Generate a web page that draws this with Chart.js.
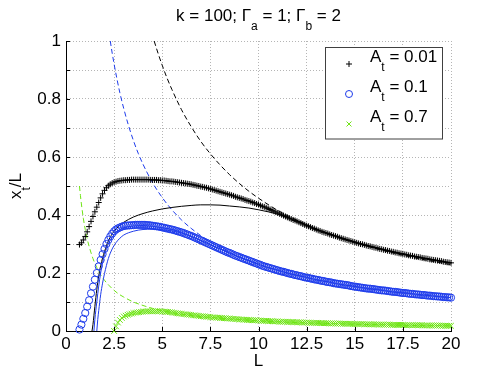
<!DOCTYPE html>
<html><head><meta charset="utf-8">
<script src="https://cdn.jsdelivr.net/npm/chart.js@4/dist/chart.umd.min.js"></script>
<style>html,body{margin:0;padding:0;background:#fff;}canvas{display:block;}</style>
</head><body>
<canvas id="c" width="498" height="375"></canvas>
<script>
// ---- tick definitions ----
const xTicks = [0, 2.5, 5, 7.5, 10, 12.5, 15, 17.5, 20];
const xTickLabels = ['0','2.5','5','7.5','10','12.5','15','17.5','20'];
const yTicks = [0, 0.1, 0.2, 0.3, 0.4, 0.5, 0.6, 0.7, 0.8, 0.9, 1];
const yTickLabels = ['0','','0.2','','0.4','','0.6','','0.8','','1'];
const legendValues = ['0.01', '0.1', '0.7'];

// ---- marker series (x_t/L vs L) ----
const L_mark = [0.7,0.8,0.9,
1.0,1.1,1.2,1.3,1.4,1.5,1.6,1.7,1.8,1.9,
2.0,2.1,2.2,2.3,2.4,2.5,2.6,2.7,2.8,2.9,
3.0,3.1,3.2,3.3,3.4,3.5,3.6,3.7,3.8,3.9,
4.0,4.1,4.2,4.3,4.4,4.5,4.6,4.7,4.8,4.9,
5.0,5.1,5.2,5.3,5.4,5.5,5.6,5.7,5.8,5.9,
6.0,6.1,6.2,6.3,6.4,6.5,6.6,6.7,6.8,6.9,
7.0,7.1,7.2,7.3,7.4,7.5,7.6,7.7,7.8,7.9,
8.0,8.1,8.2,8.3,8.4,8.5,8.6,8.7,8.8,8.9,
9.0,9.1,9.2,9.3,9.4,9.5,9.6,9.7,9.8,9.9,
10.0,10.1,10.2,10.3,10.4,10.5,10.6,10.7,10.8,10.9,
11.0,11.1,11.2,11.3,11.4,11.5,11.6,11.7,11.8,11.9,
12.0,12.1,12.2,12.3,12.4,12.5,12.6,12.7,12.8,12.9,
13.0,13.1,13.2,13.3,13.4,13.5,13.6,13.7,13.8,13.9,
14.0,14.1,14.2,14.3,14.4,14.5,14.6,14.7,14.8,14.9,
15.0,15.1,15.2,15.3,15.4,15.5,15.6,15.7,15.8,15.9,
16.0,16.1,16.2,16.3,16.4,16.5,16.6,16.7,16.8,16.9,
17.0,17.1,17.2,17.3,17.4,17.5,17.6,17.7,17.8,17.9,
18.0,18.1,18.2,18.3,18.4,18.5,18.6,18.7,18.8,18.9,
19.0,19.1,19.2,19.3,19.4,19.5,19.6,19.7,19.8,19.9,
20.0];

const mark_A001 = [0.298,0.304,0.314,
0.326,0.342,0.360,0.378,0.395,0.411,0.427,0.443,0.459,0.473,
0.485,0.494,0.501,0.506,0.510,0.513,0.515,0.517,0.518,0.519,
0.520,0.520,0.521,0.521,0.522,0.522,0.522,0.522,0.522,0.522,
0.522,0.522,0.522,0.522,0.521,0.521,0.521,0.521,0.520,0.520,
0.519,0.519,0.518,0.517,0.516,0.516,0.515,0.514,0.513,0.512,
0.511,0.510,0.509,0.508,0.507,0.506,0.504,0.503,0.501,0.500,
0.498,0.497,0.495,0.494,0.492,0.490,0.488,0.486,0.484,0.482,
0.480,0.478,0.476,0.474,0.472,0.470,0.468,0.466,0.463,0.461,
0.459,0.457,0.455,0.452,0.450,0.448,0.446,0.443,0.441,0.438,
0.436,0.433,0.430,0.428,0.425,0.422,0.419,0.416,0.413,0.410,
0.407,0.404,0.401,0.398,0.395,0.392,0.389,0.386,0.383,0.381,
0.378,0.375,0.372,0.369,0.366,0.363,0.361,0.358,0.355,0.353,
0.350,0.347,0.345,0.342,0.340,0.338,0.336,0.333,0.331,0.329,
0.327,0.325,0.322,0.320,0.318,0.316,0.314,0.312,0.310,0.308,
0.306,0.304,0.302,0.300,0.299,0.297,0.295,0.293,0.292,0.290,
0.288,0.287,0.285,0.283,0.282,0.280,0.279,0.277,0.276,0.274,
0.273,0.271,0.270,0.268,0.267,0.266,0.264,0.263,0.261,0.260,
0.259,0.257,0.256,0.255,0.254,0.252,0.251,0.250,0.249,0.247,
0.246,0.245,0.244,0.243,0.242,0.241,0.239,0.238,0.237,0.236,
0.235];

const mark_A01 = [0.005,0.022,0.042,
0.062,0.084,0.106,0.130,0.153,0.177,0.200,0.223,0.245,0.265,
0.283,0.300,0.314,0.326,0.336,0.344,0.350,0.354,0.357,0.360,
0.362,0.363,0.364,0.364,0.365,0.365,0.366,0.366,0.366,0.366,
0.366,0.366,0.365,0.365,0.364,0.363,0.362,0.361,0.360,0.359,
0.357,0.356,0.354,0.353,0.351,0.350,0.348,0.346,0.344,0.342,
0.340,0.338,0.335,0.333,0.330,0.328,0.325,0.322,0.319,0.316,
0.313,0.310,0.307,0.304,0.301,0.298,0.295,0.292,0.289,0.286,
0.283,0.280,0.277,0.274,0.271,0.269,0.266,0.263,0.260,0.258,
0.255,0.253,0.250,0.248,0.245,0.243,0.240,0.238,0.235,0.233,
0.230,0.228,0.225,0.223,0.221,0.219,0.217,0.215,0.213,0.211,
0.209,0.207,0.205,0.204,0.202,0.200,0.198,0.197,0.195,0.193,
0.192,0.190,0.189,0.187,0.185,0.184,0.183,0.181,0.180,0.178,
0.177,0.176,0.174,0.173,0.172,0.170,0.169,0.168,0.167,0.165,
0.164,0.163,0.162,0.161,0.160,0.159,0.158,0.157,0.155,0.154,
0.153,0.152,0.151,0.150,0.149,0.148,0.147,0.146,0.146,0.145,
0.144,0.143,0.142,0.141,0.140,0.140,0.139,0.138,0.137,0.136,
0.135,0.135,0.134,0.133,0.132,0.131,0.131,0.130,0.129,0.128,
0.128,0.127,0.126,0.126,0.125,0.124,0.124,0.123,0.122,0.122,
0.121,0.120,0.120,0.119,0.119,0.118,0.117,0.117,0.116,0.116,
0.115];

const mark_A07 = [null,null,null,
null,null,null,null,null,null,null,null,null,null,
null,null,null,null,null,0.000,0.016,0.029,0.038,0.045,
0.050,0.053,0.056,0.058,0.060,0.062,0.063,0.064,0.065,0.066,
0.067,0.067,0.068,0.068,0.068,0.068,0.068,0.068,0.068,0.068,
0.067,0.067,0.066,0.066,0.065,0.064,0.063,0.062,0.061,0.060,
0.059,0.058,0.058,0.057,0.056,0.055,0.054,0.054,0.053,0.052,
0.051,0.051,0.050,0.049,0.049,0.048,0.047,0.047,0.046,0.046,
0.045,0.045,0.044,0.044,0.043,0.043,0.042,0.042,0.041,0.041,
0.040,0.040,0.039,0.039,0.038,0.038,0.038,0.037,0.037,0.037,
0.036,0.036,0.035,0.035,0.035,0.034,0.034,0.034,0.033,0.033,
0.033,0.032,0.032,0.032,0.032,0.031,0.031,0.031,0.031,0.030,
0.030,0.030,0.030,0.029,0.029,0.029,0.029,0.028,0.028,0.028,
0.028,0.028,0.027,0.027,0.027,0.027,0.027,0.026,0.026,0.026,
0.026,0.026,0.026,0.025,0.025,0.025,0.025,0.025,0.025,0.024,
0.024,0.024,0.024,0.024,0.024,0.023,0.023,0.023,0.023,0.023,
0.023,0.023,0.022,0.022,0.022,0.022,0.022,0.022,0.022,0.021,
0.021,0.021,0.021,0.021,0.021,0.021,0.021,0.020,0.020,0.020,
0.020,0.020,0.020,0.020,0.020,0.020,0.019,0.019,0.019,0.019,
0.019,0.019,0.019,0.019,0.019,0.018,0.018,0.018,0.018,0.018,
0.018];

// ---- solid curves ----
const L_solidK = [1.35,1.4,1.5,1.6,1.7,1.8,1.9,2.0,2.2,2.4,2.6,2.8,3.0,3.5,4.0,4.5,5,5.5,6,6.5,7,7.5,8,8.5,9,9.5,10,10.5,11,11.5,12,13,14,15,16,17,18,19,20];
const solidK = [0,0.022,0.085,0.143,0.19,0.225,0.252,0.274,0.31,0.335,0.352,0.365,0.375,0.393,0.405,0.414,0.421,0.426,0.430,0.433,0.435,0.435,0.434,0.431,0.428,0.424,0.418,0.411,0.403,0.392,0.379,0.351,0.328,0.307,0.289,0.272,0.258,0.245,0.234];
const L_solidB1 = [1.45,1.5,1.6,1.7,1.8,1.9,2.0,2.2,2.4,2.6,2.8,3.0,3.5,4.0,4.5,5,5.5,6,6.5,7,7.5,8,9,10,11,12,13,14,15,16,17,18,19,20];
const solidB1 = [0,0.04,0.1,0.155,0.2,0.236,0.263,0.3,0.324,0.34,0.35,0.356,0.362,0.363,0.361,0.356,0.35,0.34,0.326,0.312,0.298,0.283,0.255,0.23,0.209,0.192,0.177,0.164,0.153,0.144,0.135,0.128,0.121,0.115];
const L_solidB2 = [1.6,1.65,1.7,1.8,1.9,2.0,2.2,2.4,2.6,2.8,3.0,3.5,4.0,4.5,5,5.5,6,6.5,7,7.5,8,9,10];
const solidB2 = [0,0.04,0.07,0.125,0.165,0.198,0.25,0.283,0.305,0.32,0.331,0.344,0.35,0.351,0.349,0.345,0.338,0.326,0.312,0.298,0.283,0.255,0.23];

// ---- dashed curves ----
const L_dashK = [4.58,4.8,5,5.25,5.5,5.75,6,6.5,7,7.5,8,8.5,9,9.5,10,11,12,13,14,15,16,17,18,19,20];
const dashK = [1.000,0.954,0.916,0.872,0.833,0.797,0.763,0.705,0.654,0.611,0.573,0.539,0.509,0.482,0.458,0.416,0.382,0.352,0.327,0.305,0.286,0.269,0.254,0.241,0.229];
const L_dashB = [2.3,2.4,2.5,2.65,2.8,3,3.25,3.5,3.75,4,4.5,5,5.5,6,6.5,7,7.5,8,9,10,11,12,13,14,15,16,17,18,19,20];
const dashB = [1.000,0.958,0.920,0.868,0.821,0.767,0.708,0.657,0.613,0.575,0.511,0.460,0.418,0.383,0.354,0.329,0.307,0.288,0.256,0.230,0.209,0.192,0.177,0.164,0.153,0.144,0.135,0.128,0.121,0.115];
const L_dashG = [0.7,0.75,0.8,0.9,1.0,1.1,1.2,1.4,1.6,1.8,2.0,2.25,2.5,2.75,3,3.5,4,4.5,5,6,7,8,10,12,14,16,18,20];
const dashG = [0.500,0.467,0.438,0.389,0.350,0.318,0.292,0.250,0.219,0.194,0.175,0.156,0.140,0.127,0.117,0.100,0.088,0.078,0.070,0.058,0.050,0.044,0.035,0.029,0.025,0.022,0.019,0.0175];

const FONT = '"Liberation Sans", Arial, Helvetica, sans-serif';
const BLACK = '#000000', BLUE = 'rgb(30,60,235)', GREEN = 'rgb(110,228,20)';

function pts(xs, ys) { return xs.map((x, i) => ({ x: x, y: ys[i] })); }

function markerDs(data, color, style, r) {
  return { data: pts(L_mark, data), showLine: false, borderColor: color, backgroundColor: 'rgba(0,0,0,0)',
    pointStyle: style, pointRadius: r, pointBorderWidth: 1, pointBorderColor: color, clip: false };
}
function lineDs(xs, ys, color, dashed) {
  return { data: pts(xs, ys), showLine: true, borderColor: color, borderWidth: 1, pointRadius: 0,
    borderDash: dashed ? [5, 3] : [], cubicInterpolationMode: 'monotone', fill: false };
}

function richWidth(ctx, segs, size) {
  let w = 0;
  for (const s of segs) {
    ctx.font = (s.sub ? Math.round(size * 0.72) : size) + 'px ' + FONT;
    w += ctx.measureText(s.t).width;
  }
  return w;
}
function drawRich(ctx, segs, x, y, size, align) {
  const w = richWidth(ctx, segs, size);
  let cx = align === 'center' ? x - w / 2 : x;
  ctx.textBaseline = 'alphabetic';
  ctx.textAlign = 'left';
  for (const s of segs) {
    ctx.font = (s.sub ? Math.round(size * 0.72) : size) + 'px ' + FONT;
    ctx.fillText(s.t, cx, s.sub ? y + size * 0.5 : y);
    cx += ctx.measureText(s.t).width;
  }
}

const decor = {
  id: 'decor',
  afterDraw(chart) {
    const ctx = chart.ctx, ca = chart.chartArea;
    const xs = chart.scales.x, ys = chart.scales.y;
    ctx.save();
    ctx.strokeStyle = '#000'; ctx.lineWidth = 1;
    ctx.beginPath();
    for (const v of yTicks) { const py = Math.round(ys.getPixelForValue(v)) + 0.5; ctx.moveTo(ca.left, py); ctx.lineTo(ca.left + 4, py); }
    for (const v of xTicks) { const px = Math.round(xs.getPixelForValue(v)) + 0.5; ctx.moveTo(px, ca.bottom); ctx.lineTo(px, ca.bottom - 4); }
    ctx.stroke();
    ctx.fillStyle = '#000';
    drawRich(ctx, [{t:'k = 100; \u0393'},{t:'a',sub:1},{t:' = 1; \u0393'},{t:'b',sub:1},{t:' = 2'}], (ca.left + ca.right) / 2, 21, 17, 'center');
    drawRich(ctx, [{t:'L'}], (ca.left + ca.right) / 2, 366, 17, 'center');
    ctx.save();
    ctx.translate(21, (ca.top + ca.bottom) / 2);
    ctx.rotate(-Math.PI / 2);
    drawRich(ctx, [{t:'x'},{t:'t',sub:1},{t:'/L'}], 0, 0, 17, 'center');
    ctx.restore();
    const bx = 325.5, by = 47.5, bw = 117, bh = 91.5;
    ctx.fillStyle = '#fff'; ctx.fillRect(bx, by, bw, bh);
    ctx.strokeStyle = '#404040'; ctx.lineWidth = 1; ctx.strokeRect(bx, by, bw, bh);
    const items = [
      { style: 'cross', color: BLACK, r: 3 },
      { style: 'circle', color: BLUE, r: 3.5 },
      { style: 'crossRot', color: GREEN, r: 3.5 }
    ];
    items.forEach((it, i) => {
      const my = 64 + i * 30;
      ctx.strokeStyle = it.color; ctx.fillStyle = 'rgba(0,0,0,0)'; ctx.lineWidth = 1;
      Chart.helpers.drawPoint(ctx, { pointStyle: it.style, radius: it.r, borderWidth: 1, rotation: 0 }, 349, my);
      ctx.fillStyle = '#000';
      drawRich(ctx, [{t:'A'},{t:'t',sub:1},{t:' = ' + legendValues[i]}], 370, 62 + i * 30, 17, 'left');
    });
    ctx.restore();
  }
};

new Chart(document.getElementById('c'), {
  type: 'scatter',
  data: { datasets: [
    markerDs(mark_A001, BLACK, 'cross', 3),
    markerDs(mark_A01, BLUE, 'circle', 3.6),
    markerDs(mark_A07, GREEN, 'crossRot', 4),
    lineDs(L_solidK, solidK, BLACK, false),
    lineDs(L_solidB1, solidB1, BLUE, false),
    lineDs(L_solidB2, solidB2, BLUE, false),
    lineDs(L_dashK, dashK, BLACK, true),
    lineDs(L_dashB, dashB, BLUE, true),
    lineDs(L_dashG, dashG, GREEN, true)
  ]},
  options: {
    responsive: false, animation: false, devicePixelRatio: 1,
    layout: { padding: { top: 41, right: 47, left: 0, bottom: 0 } },
    plugins: { legend: { display: false }, title: { display: false }, tooltip: { enabled: false } },
    scales: {
      x: { type: 'linear', min: 0, max: 20,
        afterBuildTicks: s => { s.ticks = xTicks.map(v => ({ value: v })); },
        afterFit: s => { s.height = 44; },
        ticks: { font: { family: FONT, size: 17 }, color: '#000', padding: 3, maxRotation: 0, autoSkip: false,
          callback: (v, i) => xTickLabels[i] },
        grid: { color: '#b5b5b5', drawTicks: false, lineWidth: 1 },
        border: { display: true, color: '#000', width: 1, dash: [1, 2] } },
      y: { type: 'linear', min: 0, max: 1,
        afterBuildTicks: s => { s.ticks = yTicks.map(v => ({ value: v })); },
        afterFit: s => { s.width = 66; },
        ticks: { font: { family: FONT, size: 17 }, color: '#000', padding: 5, autoSkip: false,
          callback: (v, i) => yTickLabels[i] },
        grid: { color: '#b5b5b5', drawTicks: false, lineWidth: 1 },
        border: { display: true, color: '#000', width: 1, dash: [1, 2] } }
    }
  },
  plugins: [decor]
});
</script>
</body></html>
